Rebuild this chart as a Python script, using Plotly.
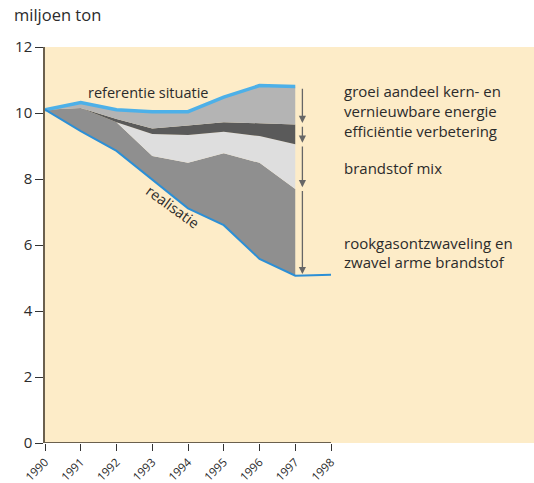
import plotly.graph_objects as go

# jaren en waarden (miljoen ton)
jaren = [1990, 1991, 1992, 1993, 1994, 1995, 1996, 1997]
referentie = [10.1, 10.32, 10.1, 10.04, 10.04, 10.48, 10.83, 10.8]
grens_efficientie = [10.1, 10.15, 9.82, 9.53, 9.62, 9.72, 9.69, 9.65]
grens_mix = [10.1, 10.15, 9.72, 9.36, 9.33, 9.43, 9.30, 9.05]
grens_rookgas = [10.1, 10.15, 9.72, 8.70, 8.49, 8.78, 8.49, 7.7]

jaren_realisatie = [1990, 1991, 1992, 1993, 1994, 1995, 1996, 1997, 1998]
realisatie = [10.1, 9.45, 8.85, 7.98, 7.11, 6.6, 5.58, 5.07, 5.1]

x_labels = [str(j) for j in range(1990, 1999)]
y_ticks = [0, 2, 4, 6, 8, 10, 12]

# grenzen voor de pijlen bij 1997
pijl_grenzen = [referentie[-1], grens_efficientie[-1], grens_mix[-1], grens_rookgas[-1], realisatie[7]]

labels_rechts = [
    ("groei aandeel kern- en", 10.66),
    ("vernieuwbare energie", 10.05),
    ("efficiëntie verbetering", 9.46),
    ("brandstof mix", 8.33),
    ("rookgasontzwaveling en", 6.06),
    ("zwavel arme brandstof", 5.48),
]

FONT = "Open Sans, Noto Sans, sans-serif"
TXT = "#2b2b2b"

fig = go.Figure()

# basis (realisatie) zonder vulling
fig.add_trace(go.Scatter(x=jaren, y=realisatie[:8], mode='lines',
                         line=dict(width=0), showlegend=False, hoverinfo='skip'))
fig.add_trace(go.Scatter(x=jaren, y=grens_rookgas, mode='lines', fill='tonexty',
                         fillcolor='#8f8f8f', line=dict(width=0), showlegend=False))
fig.add_trace(go.Scatter(x=jaren, y=grens_mix, mode='lines', fill='tonexty',
                         fillcolor='#dedede', line=dict(width=0), showlegend=False))
fig.add_trace(go.Scatter(x=jaren, y=grens_efficientie, mode='lines', fill='tonexty',
                         fillcolor='#5a5a5a', line=dict(width=0), showlegend=False))
fig.add_trace(go.Scatter(x=jaren, y=referentie, mode='lines', fill='tonexty',
                         fillcolor='#b4b4b4', line=dict(width=3.5, color='#4db0e8'),
                         showlegend=False))

# realisatie lijn
fig.add_trace(go.Scatter(x=jaren_realisatie, y=realisatie, mode='lines',
                         line=dict(width=2, color='#2c8fd6'), showlegend=False))

annotations = []

# pijlen
x_pijl = 1997.2
for top, bodem in zip(pijl_grenzen[:-1], pijl_grenzen[1:]):
    annotations.append(dict(
        x=x_pijl, y=bodem + 0.05, ax=x_pijl, ay=top - 0.02,
        xref='x', yref='y', axref='x', ayref='y',
        showarrow=True, arrowhead=2, arrowsize=1.1, arrowwidth=1.3,
        arrowcolor='#666666', text=''
    ))

annotations.append(dict(x=1992.88, y=10.61, text="referentie situatie", showarrow=False,
                        font=dict(size=14.5, color=TXT, family=FONT)))
annotations.append(dict(x=1993.56, y=7.16, text="realisatie", showarrow=False, textangle=36,
                        font=dict(size=14.5, color=TXT, family=FONT)))

for tekst, yy in labels_rechts:
    annotations.append(dict(x=1998.32, y=yy, text=tekst, showarrow=False, xanchor='left',
                            font=dict(size=15, color=TXT, family=FONT)))

annotations.append(dict(x=-0.068, y=1.081, xref='paper', yref='paper', text="miljoen ton",
                        showarrow=False, xanchor='left', yanchor='middle',
                        font=dict(size=16.5, color=TXT, family=FONT)))

fig.update_layout(
    width=534, height=483,
    margin=dict(l=45, r=0, t=47, b=40),
    paper_bgcolor='white',
    plot_bgcolor='#fdecc8',
    font=dict(family=FONT, color=TXT),
    xaxis=dict(range=[1990, 1990 + 489 / 35.75], tickvals=list(range(1990, 1999)),
               ticktext=x_labels, tickangle=-45, ticks='outside', ticklen=7,
               tickcolor='#333333', showgrid=False, zeroline=False, showline=False,
               automargin=False, tickfont=dict(size=11.5, color=TXT)),
    yaxis=dict(range=[0, 12], tickvals=y_ticks, ticks='outside', ticklen=8,
               tickcolor='#333333', showgrid=False, zeroline=False, showline=True,
               automargin=False,
               linecolor='#6b604e', linewidth=1.5, tickfont=dict(size=15, color=TXT)),
    shapes=[dict(type='line', xref='x', yref='y', x0=1990, x1=1998, y0=0, y1=0,
                 line=dict(color='#6b604e', width=2))],
    annotations=annotations,
)

# geen standaard paginamarge, zodat de figuur het venster precies vult
fig.write_html("out.html", config={'displayModeBar': False},
               post_script="document.body.style.margin='0';document.body.style.overflow='hidden';")
